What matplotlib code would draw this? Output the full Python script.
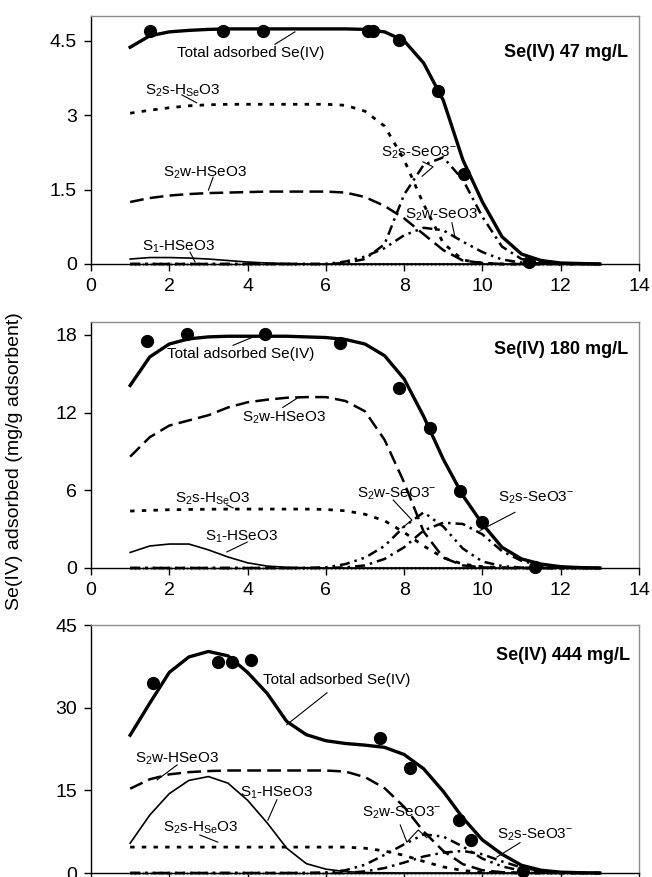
import numpy as np
import matplotlib.pyplot as plt

plt.rcParams['font.family'] = ['Liberation Sans', 'DejaVu Sans']
plt.rcParams['mathtext.default'] = 'regular'

# pH grid of the model curves
ph = [1, 1.5, 2, 2.5, 3, 3.5, 4, 4.5, 5, 5.5, 6, 6.5, 7,
      7.5, 8, 8.5, 9, 9.5, 10, 10.5, 11, 11.5, 12, 12.5, 13]

# ---- Se(IV) 47 mg/L
total_47 = [4.37, 4.60, 4.68, 4.71, 4.73, 4.74, 4.74, 4.74, 4.74, 4.74, 4.74, 4.74, 4.73,
            4.68, 4.50, 4.05, 3.30, 2.10, 1.25, 0.55, 0.20, 0.07, 0.02, 0.01, 0.00]
s2s_h_47 = [3.04, 3.10, 3.15, 3.19, 3.21, 3.22, 3.22, 3.22, 3.22, 3.22, 3.22, 3.20, 3.08,
            2.78, 2.10, 1.20, 0.42, 0.08, 0.02, 0, 0, 0, 0, 0, 0]
s2w_h_47 = [1.25, 1.33, 1.38, 1.41, 1.43, 1.44, 1.45, 1.46, 1.46, 1.46, 1.46, 1.44, 1.35,
            1.17, 0.92, 0.60, 0.28, 0.07, 0.02, 0, 0, 0, 0, 0, 0]
s1_h_47 = [0.10, 0.13, 0.13, 0.12, 0.10, 0.07, 0.04, 0.02, 0.01, 0, 0, 0, 0,
           0, 0, 0, 0, 0, 0, 0, 0, 0, 0, 0, 0]
s2s_se_47 = [0, 0, 0, 0, 0, 0, 0, 0, 0, 0, 0, 0.02, 0.10,
             0.40, 1.40, 2.00, 2.15, 1.70, 0.95, 0.35, 0.10, 0.03, 0.01, 0, 0]
s2w_se_47 = [0, 0, 0, 0, 0, 0, 0, 0, 0, 0, 0, 0.05, 0.15,
             0.32, 0.58, 0.73, 0.68, 0.45, 0.24, 0.09, 0.03, 0.01, 0, 0, 0]
obs_ph_47 = [1.5, 3.38, 4.4, 7.08, 7.2, 7.87, 8.87, 9.53, 11.2]
obs_47 = [4.70, 4.70, 4.70, 4.70, 4.69, 4.52, 3.49, 1.81, 0.04]

# ---- Se(IV) 180 mg/L
total_180 = [14.1, 16.3, 17.3, 17.7, 17.85, 17.9, 17.9, 17.9, 17.9, 17.85, 17.8, 17.65, 17.3,
             16.4, 14.6, 11.7, 8.4, 5.6, 3.4, 1.6, 0.7, 0.3, 0.1, 0.03, 0]
s2s_h_180 = [4.40, 4.45, 4.50, 4.52, 4.54, 4.55, 4.55, 4.55, 4.55, 4.55, 4.52, 4.42, 4.15,
             3.65, 2.75, 1.70, 0.80, 0.30, 0.10, 0.03, 0, 0, 0, 0, 0]
s2w_h_180 = [8.6, 10.1, 11.0, 11.4, 11.8, 12.4, 12.8, 13.0, 13.15, 13.2, 13.2, 12.9, 12.1,
             9.9, 6.6, 2.8, 0.8, 0.2, 0.05, 0, 0, 0, 0, 0, 0]
s1_h_180 = [1.2, 1.7, 1.85, 1.85, 1.4, 0.85, 0.4, 0.15, 0.05, 0.02, 0, 0, 0,
            0, 0, 0, 0, 0, 0, 0, 0, 0, 0, 0, 0]
s2s_se_180 = [0, 0, 0, 0, 0, 0, 0, 0, 0, 0, 0, 0.05, 0.2,
              0.7, 1.6, 2.9, 3.5, 3.4, 2.6, 1.3, 0.55, 0.2, 0.06, 0.02, 0]
s2w_se_180 = [0, 0, 0, 0, 0, 0, 0, 0, 0, 0, 0.05, 0.3, 0.8,
              1.7, 3.2, 4.3, 3.2, 1.5, 0.5, 0.15, 0.03, 0, 0, 0, 0]
obs_ph_180 = [1.43, 2.46, 4.45, 6.36, 7.87, 8.66, 9.43, 9.99, 11.35]
obs_180 = [17.5, 18.1, 18.1, 17.4, 13.9, 10.8, 5.95, 3.55, 0.1]

# ---- Se(IV) 444 mg/L
total_444 = [25.0, 30.8, 36.4, 39.2, 40.2, 39.4, 36.4, 32.6, 27.5, 25.1, 24.0, 23.5, 23.2,
             22.8, 21.5, 18.9, 14.8, 10.0, 6.0, 3.4, 1.4, 0.5, 0.15, 0.05, 0]
s2s_h_444 = [4.7, 4.7, 4.7, 4.7, 4.7, 4.7, 4.7, 4.7, 4.7, 4.7, 4.7, 4.7, 4.5,
             4.0, 3.2, 2.1, 1.1, 0.45, 0.15, 0.05, 0, 0, 0, 0, 0]
s2w_h_444 = [15.3, 17.0, 17.9, 18.3, 18.5, 18.6, 18.6, 18.6, 18.6, 18.6, 18.6, 18.4, 17.4,
             15.4, 12.0, 7.5, 4.0, 1.6, 0.5, 0.15, 0.03, 0, 0, 0, 0]
s1_h_444 = [5.4, 10.5, 14.4, 16.8, 17.5, 16.3, 13.2, 9.1, 4.5, 1.7, 0.7, 0.25, 0.08,
            0.02, 0, 0, 0, 0, 0, 0, 0, 0, 0, 0, 0]
s2s_se_444 = [0, 0, 0, 0, 0, 0, 0, 0, 0, 0, 0, 0, 0.3,
              0.9, 1.9, 3.0, 3.7, 4.0, 3.4, 2.1, 1.0, 0.35, 0.1, 0.03, 0]
s2w_se_444 = [0, 0, 0, 0, 0, 0, 0, 0, 0, 0, 0.1, 0.5, 1.5,
              3.3, 5.2, 7.0, 6.6, 4.8, 2.6, 1.2, 0.4, 0.1, 0.03, 0, 0]
obs_ph_444 = [1.59, 3.25, 3.61, 4.08, 7.38, 8.15, 9.4, 9.7, 11.04]
obs_444 = [34.5, 38.2, 38.2, 38.7, 24.5, 19.1, 9.6, 6.0, 0.4]

s1_se = [0] * len(ph)   # S1-SeO3- stays at zero in all three runs

L_TOTAL = 'Total adsorbed Se(IV)'
L_S2S_H = 'S$_{2}$s-H$_{Se}$O3'
L_S2W_H = 'S$_{2}$w-HSeO3'
L_S1_H = 'S$_{1}$-HSeO3'
L_S2S_SE = 'S$_{2}$s-SeO3$^{-}$'
L_S2W_SE = 'S$_{2}$w-SeO3$^{-}$'


def draw_panel(ax, total, s2s_h, s2w_h, s1_h, s2s_se, s2w_se, obs_x, obs_y):
    ax.plot(ph, s1_se, color='#9a9a9a', lw=2.4, dashes=(0.6, 0.6), clip_on=False, zorder=2)
    ax.plot(ph, s2w_se, color='k', lw=1.8, dashes=(4, 2, 1, 2, 1, 2), clip_on=False, zorder=3)
    ax.plot(ph, s2s_se, color='k', lw=1.8, dashes=(4, 2, 1, 2), clip_on=False, zorder=3)
    ax.plot(ph, s1_h, color='k', lw=1.2, clip_on=False, zorder=3)
    ax.plot(ph, s2w_h, color='k', lw=1.8, dashes=(5.5, 2.5), clip_on=False, zorder=3)
    ax.plot(ph, s2s_h, color='k', lw=2.0, dashes=(1.6, 2.6), clip_on=False, zorder=3)
    ax.plot(ph, total, color='k', lw=2.4, clip_on=False, zorder=4)
    ax.plot(obs_x, obs_y, 'o', color='k', ms=8.5, clip_on=False, zorder=5)


def label(ax, x, y, txt, leader):
    ax.text(x, y, txt, fontsize=11, ha='left', va='center', zorder=6)
    lx = [p[0] for p in leader]
    ly = [p[1] for p in leader]
    ax.plot(lx, ly, color='k', lw=0.8, zorder=6)


def style_axes(ax, ymax, yt):
    ax.set_xlim(0, 14)
    ax.set_ylim(0, ymax)
    ax.set_xticks(range(0, 15, 2))
    ax.set_yticks(yt)
    ax.set_yticklabels(['%g' % v for v in yt])
    for s in ['top', 'right']:
        ax.spines[s].set_color('#8c8c8c')
        ax.spines[s].set_linewidth(1.0)
    for s in ['left', 'bottom']:
        ax.spines[s].set_color('k')
        ax.spines[s].set_linewidth(1.0)
    ax.tick_params(direction='out', length=5, width=1, labelsize=14)
    ax.tick_params(axis='x', pad=5)
    ax.tick_params(axis='y', pad=5)


fig = plt.figure(figsize=(6.52, 8.77), dpi=100)
W, H = 652.0, 877.0

# panel 1
ax1 = fig.add_axes([91 / W, 1 - 264 / H, 548 / W, 248 / H])
draw_panel(ax1, total_47, s2s_h_47, s2w_h_47, s1_h_47, s2s_se_47, s2w_se_47, obs_ph_47, obs_47)
style_axes(ax1, 5.0, [0, 1.5, 3, 4.5])
label(ax1, 2.2, 4.25, L_TOTAL, [(4.7, 4.43), (5.21, 4.68)])
label(ax1, 1.38, 3.5, L_S2S_H, [(2.32, 3.41), (2.7, 3.25)])
label(ax1, 1.84, 1.84, L_S2W_H, [(3.12, 1.75), (3.0, 1.49)])
label(ax1, 1.3, 0.35, L_S1_H, [(2.53, 0.24), (2.66, 0.04)])
label(ax1, 7.41, 2.24, L_S2S_SE, [(8.48, 2.06), (8.74, 1.96), (8.46, 1.77)])
label(ax1, 8.02, 0.99, 'S$_{2}$w-SeO3', [(9.22, 0.83), (9.3, 0.54)])
ax1.text(13.72, 4.27, 'Se(IV) 47 mg/L', ha='right', va='center', fontsize=13, fontweight='bold')

# panel 2
ax2 = fig.add_axes([91 / W, 1 - 568 / H, 548 / W, 246 / H])
draw_panel(ax2, total_180, s2s_h_180, s2w_h_180, s1_h_180, s2s_se_180, s2w_se_180, obs_ph_180, obs_180)
style_axes(ax2, 19.0, [0, 6, 12, 18])
label(ax2, 1.94, 16.5, L_TOTAL, [(3.63, 17.2), (4.11, 17.8)])
label(ax2, 3.85, 11.6, L_S2W_H, [(4.9, 12.4), (5.26, 13.1)])
label(ax2, 2.15, 5.33, L_S2S_H, [(3.47, 4.87), (3.63, 4.64)])
label(ax2, 2.91, 2.4, L_S1_H, [(3.99, 2.0), (3.47, 1.24)])
label(ax2, 6.8, 5.7, L_S2W_SE, [(7.72, 5.25), (8.2, 3.7), (7.95, 3.1)])
label(ax2, 10.4, 5.4, L_S2S_SE, [(10.83, 4.3), (9.94, 2.9)])
ax2.text(13.72, 16.9, 'Se(IV) 180 mg/L', ha='right', va='center', fontsize=13, fontweight='bold')

# panel 3 (its x tick labels fall below the picture edge, as in the source)
ax3 = fig.add_axes([91 / W, 1 - 873 / H, 548 / W, 248 / H])
draw_panel(ax3, total_444, s2s_h_444, s2w_h_444, s1_h_444, s2s_se_444, s2w_se_444, obs_ph_444, obs_444)
style_axes(ax3, 45.0, [0, 15, 30, 45])
ax3.tick_params(axis='x', labelbottom=False)
label(ax3, 4.4, 35.1, L_TOTAL, [(6.03, 32.7), (5.0, 26.9)])
label(ax3, 1.12, 20.7, L_S2W_H, [(2.2, 19.6), (1.69, 16.9)])
label(ax3, 3.8, 14.5, L_S1_H, [(4.75, 13.3), (4.52, 9.6)])
label(ax3, 1.84, 8.2, L_S2S_H, [(2.78, 6.9), (3.24, 5.6)])
label(ax3, 6.92, 10.9, L_S2W_SE, [(7.9, 8.7), (8.07, 5.6), (8.36, 7.8), (8.58, 6.4)])
label(ax3, 10.37, 6.9, L_S2S_SE, [(10.96, 5.5), (10.37, 2.9)])
ax3.text(13.77, 39.5, 'Se(IV) 444 mg/L', ha='right', va='center', fontsize=13, fontweight='bold')

fig.text(15 / W, 1 - 461 / H, 'Se(IV) adsorbed (mg/g adsorbent)', rotation=90,
         ha='center', va='center', fontsize=14)

fig.savefig('out.png', dpi=100)
